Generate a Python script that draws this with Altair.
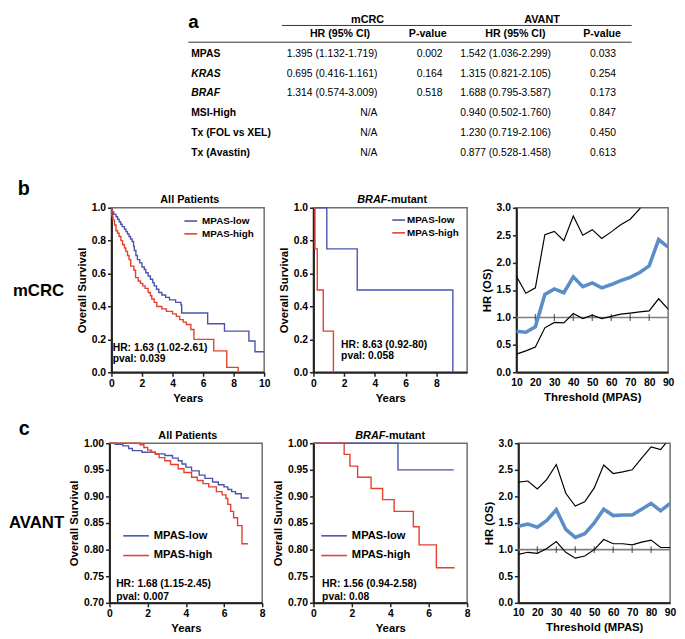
import altair as alt
import pandas as pd

FONT = "Liberation Sans"
BLUE = "#4A54AC"
RED = "#E4402C"
HRBLUE = "#5B8DC9"
GROUPS = ["MPAS-low", "MPAS-high"]

# ---------------- a: table ----------------
table_groups = ["mCRC", "AVANT"]
table_cols = ["HR (95% CI)", "P-value", "HR (95% CI)", "P-value"]
row_labels = ["MPAS", "KRAS", "BRAF", "MSI-High", "Tx (FOL vs XEL)", "Tx (Avastin)"]
italic_rows = ["KRAS", "BRAF"]
mcrc_hr = ["1.395 (1.132-1.719)", "0.695 (0.416-1.161)", "1.314 (0.574-3.009)", "N/A", "N/A", "N/A"]
mcrc_p = ["0.002", "0.164", "0.518", "", "", ""]
avant_hr = ["1.542 (1.036-2.299)", "1.315 (0.821-2.105)", "1.688 (0.795-3.587)",
            "0.940 (0.502-1.760)", "1.230 (0.719-2.106)", "0.877 (0.528-1.458)"]
avant_p = ["0.033", "0.254", "0.173", "0.847", "0.450", "0.613"]

# ---------------- b: mCRC Kaplan-Meier ----------------
b1_low_t = [0, 0.05, 0.15, 0.3, 0.4, 0.5, 0.6, 0.7, 0.85, 0.95, 1.05, 1.15, 1.25, 1.35, 1.45, 1.5, 1.6, 1.7,
            1.85, 2.0, 2.15, 2.25, 2.4, 2.55, 2.7, 2.8, 2.95, 3.1, 3.3, 3.55, 3.8, 4.2, 4.55, 4.6, 6.3, 7.4,
            9.0, 9.4, 10.0]
b1_low_s = [1.0, 0.975, 0.96, 0.945, 0.93, 0.915, 0.9, 0.885, 0.87, 0.855, 0.84, 0.825, 0.81, 0.795, 0.765,
            0.74, 0.71, 0.685, 0.665, 0.64, 0.625, 0.605, 0.585, 0.565, 0.545, 0.525, 0.505, 0.485, 0.47,
            0.455, 0.44, 0.425, 0.41, 0.36, 0.295, 0.25, 0.19, 0.125, 0.125]
b1_high_t = [0, 0.03, 0.1, 0.2, 0.3, 0.4, 0.5, 0.62, 0.73, 0.85, 0.94, 1.05, 1.15, 1.26, 1.47, 1.58, 1.75,
             1.9, 2.05, 2.2, 2.4, 2.55, 2.64, 2.8, 2.97, 3.3, 3.6, 4.0, 4.25, 4.47, 4.7, 4.9, 5.2, 5.4, 6.7,
             7.55, 8.3]
b1_high_s = [1.0, 0.95, 0.925, 0.895, 0.86, 0.845, 0.825, 0.80, 0.775, 0.755, 0.735, 0.71, 0.685, 0.645,
             0.62, 0.575, 0.555, 0.54, 0.525, 0.51, 0.485, 0.465, 0.445, 0.425, 0.40, 0.385, 0.37, 0.355,
             0.34, 0.32, 0.305, 0.29, 0.26, 0.20, 0.13, 0.03, 0.0]
b2_low_t = [0, 0.87, 2.85, 9.07]
b2_low_s = [1.0, 0.75, 0.5, 0.0]
b2_high_t = [0, 0.1, 0.25, 0.64, 1.3]
b2_high_s = [1.0, 0.75, 0.5, 0.25, 0.0]

# ---------------- c: AVANT Kaplan-Meier ----------------
c1_low_t = [0, 0.3, 0.7, 1.0, 1.2, 1.7, 2.4, 2.9, 3.3, 3.6, 3.8, 4.0, 4.3, 4.7, 5.0, 5.4, 5.7, 6.0, 6.2, 6.4,
            6.6, 6.9, 7.3]
c1_low_s = [1.0, 0.998, 0.995, 0.99, 0.986, 0.983, 0.98, 0.977, 0.972, 0.967, 0.961, 0.955, 0.948, 0.94,
            0.934, 0.927, 0.922, 0.918, 0.913, 0.909, 0.905, 0.897, 0.897]
c1_high_t = [0, 1.6, 1.8, 2.0, 2.2, 2.4, 2.6, 2.9, 3.2, 3.6, 3.9, 4.3, 4.6, 4.9, 5.2, 5.6, 5.9, 6.1, 6.2,
             6.35, 6.5, 6.71, 6.94, 7.25]
c1_high_s = [1.0, 0.997, 0.992, 0.987, 0.983, 0.979, 0.973, 0.967, 0.96, 0.952, 0.945, 0.936, 0.93, 0.924,
             0.918, 0.909, 0.903, 0.896, 0.885, 0.872, 0.86, 0.845, 0.811, 0.811]
c2_low_t = [0, 4.4, 7.3]
c2_low_s = [1.0, 0.95, 0.95]
c2_high_t = [0, 1.6, 1.9, 2.3, 3.0, 3.6, 4.2, 5.2, 5.5, 6.4, 7.35]
c2_high_s = [1.0, 0.979, 0.957, 0.936, 0.915, 0.894, 0.872, 0.843, 0.809, 0.766, 0.766]

# ---------------- HR vs threshold ----------------
thresholds = [10, 15, 20, 25, 30, 35, 40, 45, 50, 55, 60, 65, 70, 75, 80, 85, 90]
mcrc_hr_os = [0.75, 0.73, 0.83, 1.42, 1.52, 1.45, 1.74, 1.56, 1.63, 1.54, 1.60, 1.67, 1.73, 1.82, 1.94, 2.42, 2.28]
mcrc_lo = [0.33, 0.39, 0.46, 0.81, 0.91, 0.90, 1.07, 0.98, 1.04, 0.98, 1.02, 1.06, 1.08, 1.10, 1.12, 1.34, 1.15]
mcrc_hi = [1.75, 1.44, 1.54, 2.51, 2.57, 2.40, 2.85, 2.50, 2.60, 2.44, 2.56, 2.69, 2.79, 2.98, 3.35, 4.40, 4.60]
avant_hr_os = [1.44, 1.48, 1.42, 1.55, 1.75, 1.38, 1.23, 1.30, 1.50, 1.76, 1.64, 1.65, 1.65, 1.76, 1.87, 1.73, 1.87]
avant_lo = [0.91, 0.95, 0.93, 1.02, 1.15, 0.95, 0.84, 0.88, 1.00, 1.19, 1.11, 1.11, 1.09, 1.14, 1.18, 1.04, 1.04]
avant_hi = [2.27, 2.29, 2.14, 2.32, 2.60, 2.06, 1.82, 1.90, 2.16, 2.59, 2.43, 2.46, 2.50, 2.72, 2.93, 2.88, 3.10]
ref_ticks = [20, 30, 40, 50, 60, 70, 80]

# ================= layout helpers =================
T_W, T_H = 669, 152
TX = alt.Scale(domain=[0, T_W], nice=False, zero=False)
TY = alt.Scale(domain=[0, T_H], nice=False, zero=False, reverse=True)
row_y = [41, 61, 81, 101, 121, 141]
group_x = [364, 541]
col_x = [336, 425, 514, 602]
val_right = [374, 440, 550, 616]
NOSTROKE = alt.ViewBackground(stroke="transparent")


def tchart(df, baseline="middle", **mk):
    return alt.Chart(df).mark_text(font=FONT, baseline=baseline, color="black", **mk).encode(
        x=alt.X("x:Q", scale=TX, axis=None),
        y=alt.Y("y:Q", scale=TY, axis=None),
        text="label:N",
    )


a_df = pd.DataFrame({"label": ["a"], "x": [182], "y": [0]})
grp_df = pd.DataFrame({"label": table_groups, "x": group_x, "y": [0, 0]})
col_df = pd.DataFrame({"label": table_cols, "x": col_x, "y": [21] * 4})
lab_norm = pd.DataFrame({"label": [r for r in row_labels if r not in italic_rows],
                         "x": 185, "y": [row_y[i] for i, r in enumerate(row_labels) if r not in italic_rows]})
lab_ital = pd.DataFrame({"label": [r for r in row_labels if r in italic_rows],
                         "x": 185, "y": [row_y[i] for i, r in enumerate(row_labels) if r in italic_rows]})
vals = []
for ci, col in enumerate([mcrc_hr, mcrc_p, avant_hr, avant_p]):
    for ri, v in enumerate(col):
        if v:
            vals.append({"label": v, "x": val_right[ci], "y": row_y[ri]})
val_df = pd.DataFrame(vals)
rules_df = pd.DataFrame({"x": [277, 182], "x2": [632, 632], "y": [12, 29]})

table = alt.layer(
    tchart(a_df, baseline="top", align="left", fontSize=19, fontWeight="bold"),
    tchart(grp_df, baseline="top", align="center", fontSize=11, fontWeight="bold"),
    tchart(col_df, align="center", fontSize=10.8, fontWeight="bold"),
    tchart(lab_norm, align="left", fontSize=10.5, fontWeight="bold"),
    tchart(lab_ital, align="left", fontSize=10.5, fontWeight="bold", fontStyle="italic"),
    tchart(val_df, align="right", fontSize=10.5),
    alt.Chart(rules_df).mark_rule(color="#333", strokeWidth=1).encode(
        x=alt.X("x:Q", scale=TX, axis=None), x2="x2:Q", y=alt.Y("y:Q", scale=TY, axis=None)),
).properties(width=T_W, height=T_H, view=NOSTROKE)


def label_chart(letter, lx, ly, row, rx, ry, w, h):
    l1 = alt.Chart(pd.DataFrame({"label": [letter]})).mark_text(
        font=FONT, fontSize=20, fontWeight="bold", align="left", baseline="middle", color="black"
    ).encode(text="label:N", x=alt.value(lx), y=alt.value(ly))
    l2 = alt.Chart(pd.DataFrame({"label": [row]})).mark_text(
        font=FONT, fontSize=17, fontWeight="bold", align="left", baseline="middle", color="black"
    ).encode(text="label:N", x=alt.value(rx), y=alt.value(ry))
    return alt.layer(l1, l2).properties(width=w, height=h, view=NOSTROKE)


def km_panel(low_t, low_s, high_t, high_s, w, h, xmax, xticks, ymin, yticks, yfmt,
             title, hr_txt, p_txt, ann_t, ann_y1, ann_y2, leg_x, leg_y, sym, leg_fs, leg_off,
             leg_pad, title_dy, italic_split=None):
    df = pd.DataFrame({
        "t": low_t + high_t,
        "s": low_s + high_s,
        "group": [GROUPS[0]] * len(low_t) + [GROUPS[1]] * len(high_t),
    })
    X = alt.X("t:Q", scale=alt.Scale(domain=[0, xmax], nice=False, zero=False),
              axis=alt.Axis(values=xticks, format="d", title="Years"))
    Y = alt.Y("s:Q", scale=alt.Scale(domain=[ymin, 1.0], nice=False, zero=False),
              axis=alt.Axis(values=yticks, format=yfmt, title="Overall Survival"))
    C = alt.Color("group:N", scale=alt.Scale(domain=GROUPS, range=[BLUE, RED]),
                  legend=alt.Legend(orient="none", legendX=leg_x, legendY=leg_y, title=None,
                                    symbolType="stroke", symbolSize=sym * sym, symbolStrokeWidth=1.6,
                                    labelFont=FONT, labelFontSize=leg_fs, labelFontWeight="bold",
                                    labelColor="black", labelOffset=leg_off, rowPadding=leg_pad,
                                    padding=0))
    lines = alt.Chart(df).mark_line(interpolate="step-after", strokeWidth=1.4).encode(x=X, y=Y, color=C)
    ann = alt.Chart(pd.DataFrame({"t": [ann_t, ann_t], "s": [ann_y1, ann_y2], "label": [hr_txt, p_txt]})
                    ).mark_text(font=FONT, fontSize=10.5, fontWeight="bold", align="left",
                                baseline="middle", color="black").encode(x=X, y=Y, text="label:N")
    layers = [lines, ann]
    if italic_split is None:
        layers.append(alt.Chart(pd.DataFrame({"label": [title]})).mark_text(
            font=FONT, fontSize=11, fontWeight="bold", align="center", baseline="middle", color="black"
        ).encode(text="label:N", x=alt.value(w / 2 + 2), y=alt.value(title_dy)))
    else:
        ital, rest, sx = italic_split
        layers.append(alt.Chart(pd.DataFrame({"label": [ital]})).mark_text(
            font=FONT, fontSize=11, fontWeight="bold", fontStyle="italic", align="right",
            baseline="middle", color="black"
        ).encode(text="label:N", x=alt.value(sx), y=alt.value(title_dy)))
        layers.append(alt.Chart(pd.DataFrame({"label": [rest]})).mark_text(
            font=FONT, fontSize=11, fontWeight="bold", align="left", baseline="middle", color="black"
        ).encode(text="label:N", x=alt.value(sx), y=alt.value(title_dy)))
    return alt.layer(*layers).properties(width=w, height=h)


def hr_panel(hr, lo, hi, w, h):
    X = alt.X("thr:Q", scale=alt.Scale(domain=[10, 90], nice=False, zero=False),
              axis=alt.Axis(values=list(range(10, 91, 10)), format="d", ticks=False,
                            title="Threshold (MPAS)", labelPadding=5))
    Y = alt.Y("val:Q", scale=alt.Scale(domain=[0, 3], nice=False, zero=False),
              axis=alt.Axis(values=[0, 0.5, 1, 1.5, 2, 2.5, 3], format=".1f", title="HR (OS)"))
    ci_df = pd.DataFrame({"thr": thresholds * 2, "val": hi + lo,
                          "bound": ["upper"] * len(thresholds) + ["lower"] * len(thresholds)})
    ref = alt.Chart(pd.DataFrame({"val": [1.0]})).mark_rule(color="#808080", strokeWidth=1.6).encode(y=Y)
    ticks = alt.Chart(pd.DataFrame({"thr": ref_ticks, "val": [1.0] * len(ref_ticks)})).mark_tick(
        orient="vertical", size=7, thickness=1.2, color="#222").encode(x=X, y=Y)
    ci = alt.Chart(ci_df).mark_line(color="black", strokeWidth=1.2, clip=True).encode(
        x=X, y=Y, detail="bound:N")
    est = alt.Chart(pd.DataFrame({"thr": thresholds, "val": hr})).mark_line(
        color=HRBLUE, strokeWidth=3.6, clip=True).encode(x=X, y=Y)
    return alt.layer(ref, ticks, ci, est).properties(width=w, height=h)


B_H, C_H = 167, 162

b1 = km_panel(b1_low_t, b1_low_s, b1_high_t, b1_high_s, 155, B_H, 10, [0, 2, 4, 6, 8, 10], 0.0,
              [0.0, 0.2, 0.4, 0.6, 0.8, 1.0], ".1f", "All Patients",
              "HR: 1.63 (1.02-2.61)", "pval: 0.039", 0.08, 0.147, 0.082,
              73, 6, 13, 10, 4, -1, -8)
b2 = km_panel(b2_low_t, b2_low_s, b2_high_t, b2_high_s, 156, B_H, 10, [0, 2, 4, 6, 8], 0.0,
              [0.0, 0.2, 0.4, 0.6, 0.8, 1.0], ".1f", "BRAF-mutant",
              "HR: 8.63 (0.92-80)", "pval: 0.058", 1.8, 0.166, 0.098,
              79, 5, 13, 10, 1, -1, -8, italic_split=("BRAF", "-mutant", 75))
b3 = hr_panel(mcrc_hr_os, mcrc_lo, mcrc_hi, 154, B_H)

c1 = km_panel(c1_low_t, c1_low_s, c1_high_t, c1_high_s, 155, C_H, 8, [0, 2, 4, 6, 8], 0.70,
              [0.70, 0.75, 0.80, 0.85, 0.90, 0.95, 1.00], ".2f", "All Patients",
              "HR: 1.68 (1.15-2.45)", "pval: 0.007", 0.35, 0.735, 0.711,
              13, 80, 26, 11.3, 4, -4.5, -7)
c2 = km_panel(c2_low_t, c2_low_s, c2_high_t, c2_high_s, 156, C_H, 8, [0, 2, 4, 6, 8], 0.70,
              [0.70, 0.75, 0.80, 0.85, 0.90, 0.95, 1.00], ".2f", "BRAF-mutant",
              "HR: 1.56 (0.94-2.58)", "pval: 0.08", 0.45, 0.735, 0.711,
              7, 80, 26, 11.3, 4, -4.5, -7, italic_split=("BRAF", "-mutant", 73))
c3 = hr_panel(avant_hr_os, avant_lo, avant_hi, 154, C_H)

labelB = label_chart("b", 9, -19, "mCRC", 4, 85, 54, B_H)
labelC = label_chart("c", 10, -14, "AVANT", 0, 81, 50, C_H)

rowB = alt.hconcat(labelB, b1, b2, b3, spacing=50, bounds="flush").resolve_scale(
    color="independent").resolve_legend(color="independent")
rowC = alt.hconcat(labelC, c1, c2, c3, spacing=52, bounds="flush").resolve_scale(
    color="independent").resolve_legend(color="independent")

chart = alt.vconcat(table, rowB, rowC, spacing=14).resolve_scale(
    color="independent").resolve_legend(color="independent").properties(padding=0)

chart = chart.configure_view(stroke="#6e6e6e", strokeWidth=1.5).configure_axis(
    labelFont=FONT, titleFont=FONT, labelFontSize=10.5, labelFontWeight="bold", labelColor="black",
    titleFontSize=11.5, titleFontWeight="bold", titleColor="black", domainColor="#222", domainWidth=2,
    tickColor="#222", tickWidth=1.5, tickSize=4, grid=False, labelFlush=False, labelPadding=2,
    titlePadding=4,
).configure_text(font=FONT)

chart.save("out.html", embed_options={"renderer": "svg", "actions": False})
